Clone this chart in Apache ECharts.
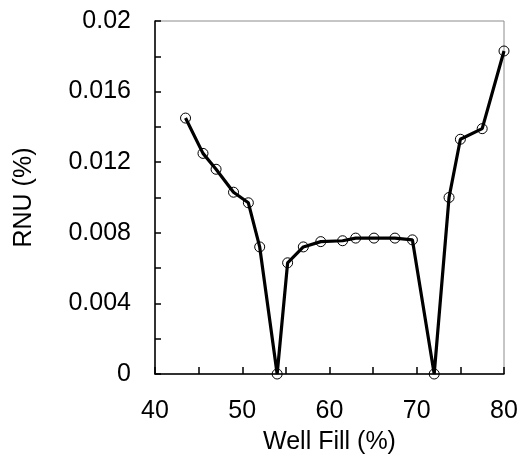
<!DOCTYPE html>
<html>
<head>
<meta charset="utf-8">
<script src="https://cdn.jsdelivr.net/npm/echarts@6/dist/echarts.min.js"></script>
<style>
  html, body { margin: 0; padding: 0; background: #fff; }
  #chart { width: 520px; height: 455px; }
</style>
</head>
<body>
<div id="chart"></div>
<script>
// Well fill level (%) against relative non-uniformity (%)
const wellFill = [43.5, 45.5, 47, 49, 50.7, 52, 54, 55.2, 57, 59, 61.5, 63, 65.1, 67.5, 69.5, 72, 73.7, 75, 77.5, 80];
const rnu = [0.0145, 0.0125, 0.0116, 0.0103, 0.0097, 0.0072, 0, 0.0063, 0.0072, 0.0075, 0.00755, 0.0077, 0.0077, 0.0077, 0.0076, 0, 0.0100, 0.0133, 0.0139, 0.0183];

const xTicks = { min: 40, max: 80, step: 10 };
const yTicks = { min: 0, max: 0.02, step: 0.004 };

const font = '"Liberation Sans", Arial, sans-serif';

const chart = echarts.init(document.getElementById('chart'));
chart.setOption({
  animation: false,
  backgroundColor: '#fff',
  grid: {
    left: 155, right: 16, top: 21, bottom: 81,
    outerBoundsMode: 'none',
    containLabel: false,
    show: true, borderColor: '#8c8c8c', borderWidth: 1, backgroundColor: 'transparent'
  },
  xAxis: {
    type: 'value',
    min: xTicks.min, max: xTicks.max, interval: xTicks.step,
    name: 'Well Fill (%)',
    nameLocation: 'middle', nameGap: 56,
    nameTextStyle: { fontFamily: font, fontSize: 25, color: '#000' },
    axisLine: { show: true, onZero: false, lineStyle: { color: '#000', width: 1.5 } },
    axisTick: { show: true, inside: true, length: 7, lineStyle: { color: '#000', width: 1.5 } },
    minorTick: { show: true, splitNumber: 2, length: 7, lineStyle: { color: '#000', width: 1.5 } },
    axisLabel: { fontFamily: font, fontSize: 25, color: '#000', margin: 25 },
    splitLine: { show: false }
  },
  yAxis: {
    type: 'value',
    min: yTicks.min, max: yTicks.max, interval: yTicks.step,
    name: 'RNU (%)',
    nameLocation: 'middle', nameGap: 118, nameRotate: 90,
    nameTextStyle: { fontFamily: font, fontSize: 25, color: '#000' },
    axisLine: { show: true, onZero: false, lineStyle: { color: '#000', width: 1.5 } },
    axisTick: { show: true, inside: true, length: 6, lineStyle: { color: '#000', width: 1.5 } },
    minorTick: { show: true, splitNumber: 2, length: 6, lineStyle: { color: '#000', width: 1.5 } },
    axisLabel: {
      fontFamily: font, fontSize: 25, color: '#000', margin: 24,
      formatter: v => String(+v.toFixed(3))
    },
    splitLine: { show: false }
  },
  series: [{
    type: 'line',
    data: wellFill.map((x, i) => [x, rnu[i]]),
    lineStyle: { color: '#000', width: 3.2 },
    symbol: 'circle',
    symbolSize: 10,
    itemStyle: { color: 'transparent', borderColor: '#000', borderWidth: 1 },
    z: 3
  }]
});
</script>
</body>
</html>
